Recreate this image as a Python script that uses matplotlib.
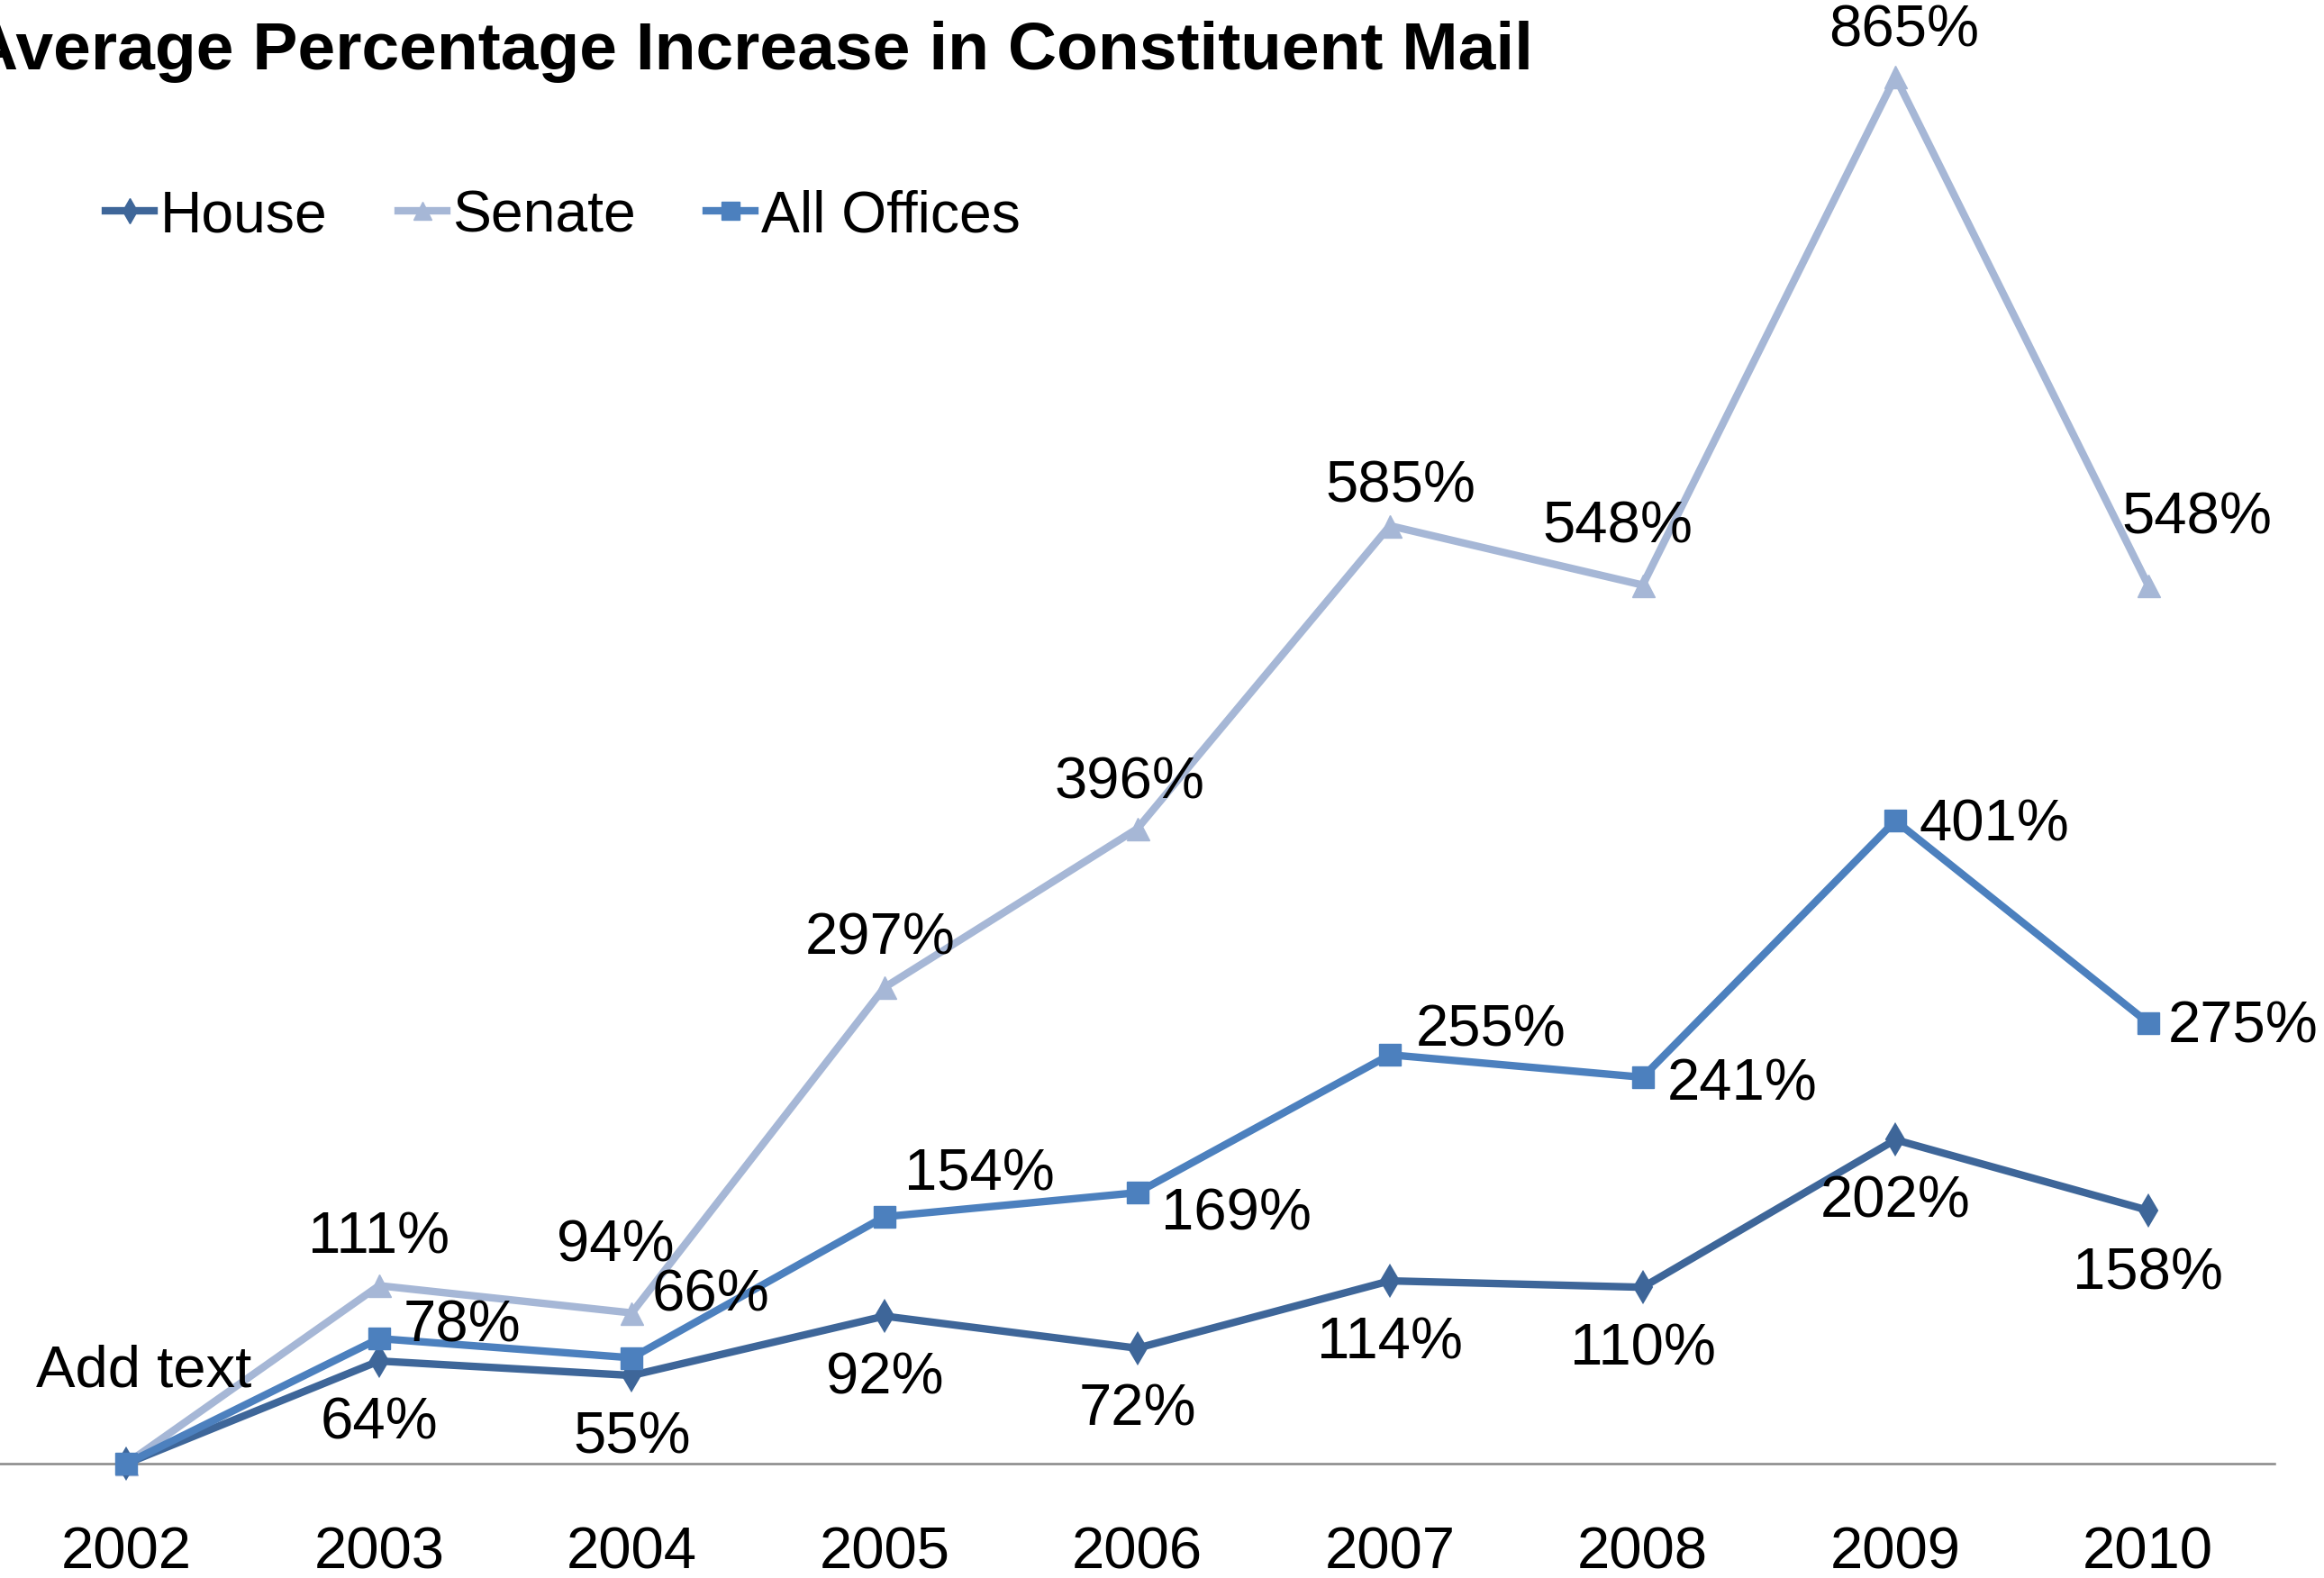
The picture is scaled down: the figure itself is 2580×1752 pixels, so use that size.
import matplotlib
matplotlib.use("Agg")
import matplotlib.pyplot as plt
from matplotlib.lines import Line2D

years = ["2002", "2003", "2004", "2005", "2006", "2007", "2008", "2009", "2010"]
house = [0, 64, 55, 92, 72, 114, 110, 202, 158]
senate = [0, 111, 94, 297, 396, 585, 548, 865, 548]
all_offices = [0, 78, 66, 154, 169, 255, 241, 401, 275]

# label offsets (pixels) relative to each point, index 0 is unlabeled
S = 1.645
house_off = [None] + [(0, -42)] * 7 + [(0, -43)]
senate_off = [None, (0, 32), (-11, 45), (-3, 33), (-5, 31), (7, 26), (-17, 39), (6, 31), (33, 45)]
all_off = [None, (56, 8), (53, 42), (64, 28), (67, -15), (68, 16), (67, -5), (67, -3), (64, -3)]

c_house = "#3E6699"
c_senate = "#A6B7D6"
c_all = "#4C80BE"

plt.rcParams['font.family'] = ['Liberation Sans', 'DejaVu Sans']

W, H = 2580, 1752
fig = plt.figure(figsize=(W / 100, H / 100), dpi=100)
ax = fig.add_axes([0, 127 / H, 2525 / W, 1602 / H])

x = list(range(len(years)))
lw = 6
ax.plot(x, senate, color=c_senate, lw=lw, marker='^', ms=18, clip_on=False, zorder=3)
ax.plot(x, house, color=c_house, lw=lw, marker='d', ms=17, mew=1.5, clip_on=False, zorder=4)
ax.plot(x, all_offices, color=c_all, lw=lw, marker='s', ms=17.5, clip_on=False, zorder=5)

fs = 47
for vals, offs in ((house, house_off), (senate, senate_off), (all_offices, all_off)):
    for i, (v, o) in enumerate(zip(vals, offs)):
        if o is None:
            continue
        ax.annotate(f"{v}%", (i, v), xytext=(o[0] * S, o[1] * S), textcoords='offset pixels',
                    ha='center', va='center', fontsize=fs, color='black', zorder=6)

ax.set_xlim(-0.5, len(years) - 0.5)
ax.set_ylim(0, 900)
ax.set_xticks(x)
ax.set_xticklabels(years, fontsize=fs)
ax.tick_params(axis='x', length=0, pad=50)
ax.set_yticks([])
for s in ('top', 'right', 'left'):
    ax.spines[s].set_visible(False)
ax.spines['bottom'].set_color('#888888')
ax.spines['bottom'].set_linewidth(1.8)
ax.patch.set_alpha(0)

fig.text(1702 / W, 1 - 58 / H, "Average Percentage Increase in Constituent Mail",
         ha='right', va='center', fontsize=54, fontweight='bold')

fig.text(160 / W, 1 - 1522 / H, "Add text", ha='center', va='center', fontsize=fs)

handles = [
    Line2D([0], [0], color=c_house, lw=lw, marker='d', ms=14, mew=1),
    Line2D([0], [0], color=c_senate, lw=lw, marker='^', ms=14),
    Line2D([0], [0], color=c_all, lw=lw, marker='s', ms=14),
]
fig.legend(handles, ["House", "Senate", "All Offices"], loc='center left',
           bbox_to_anchor=(117 / W, 1 - 240 / H), ncol=3, frameon=False, fontsize=46.3,
           handlelength=0.84, handletextpad=0.1, columnspacing=1.22, borderpad=0,
           borderaxespad=0)

fig.savefig("out.png", dpi=100)
